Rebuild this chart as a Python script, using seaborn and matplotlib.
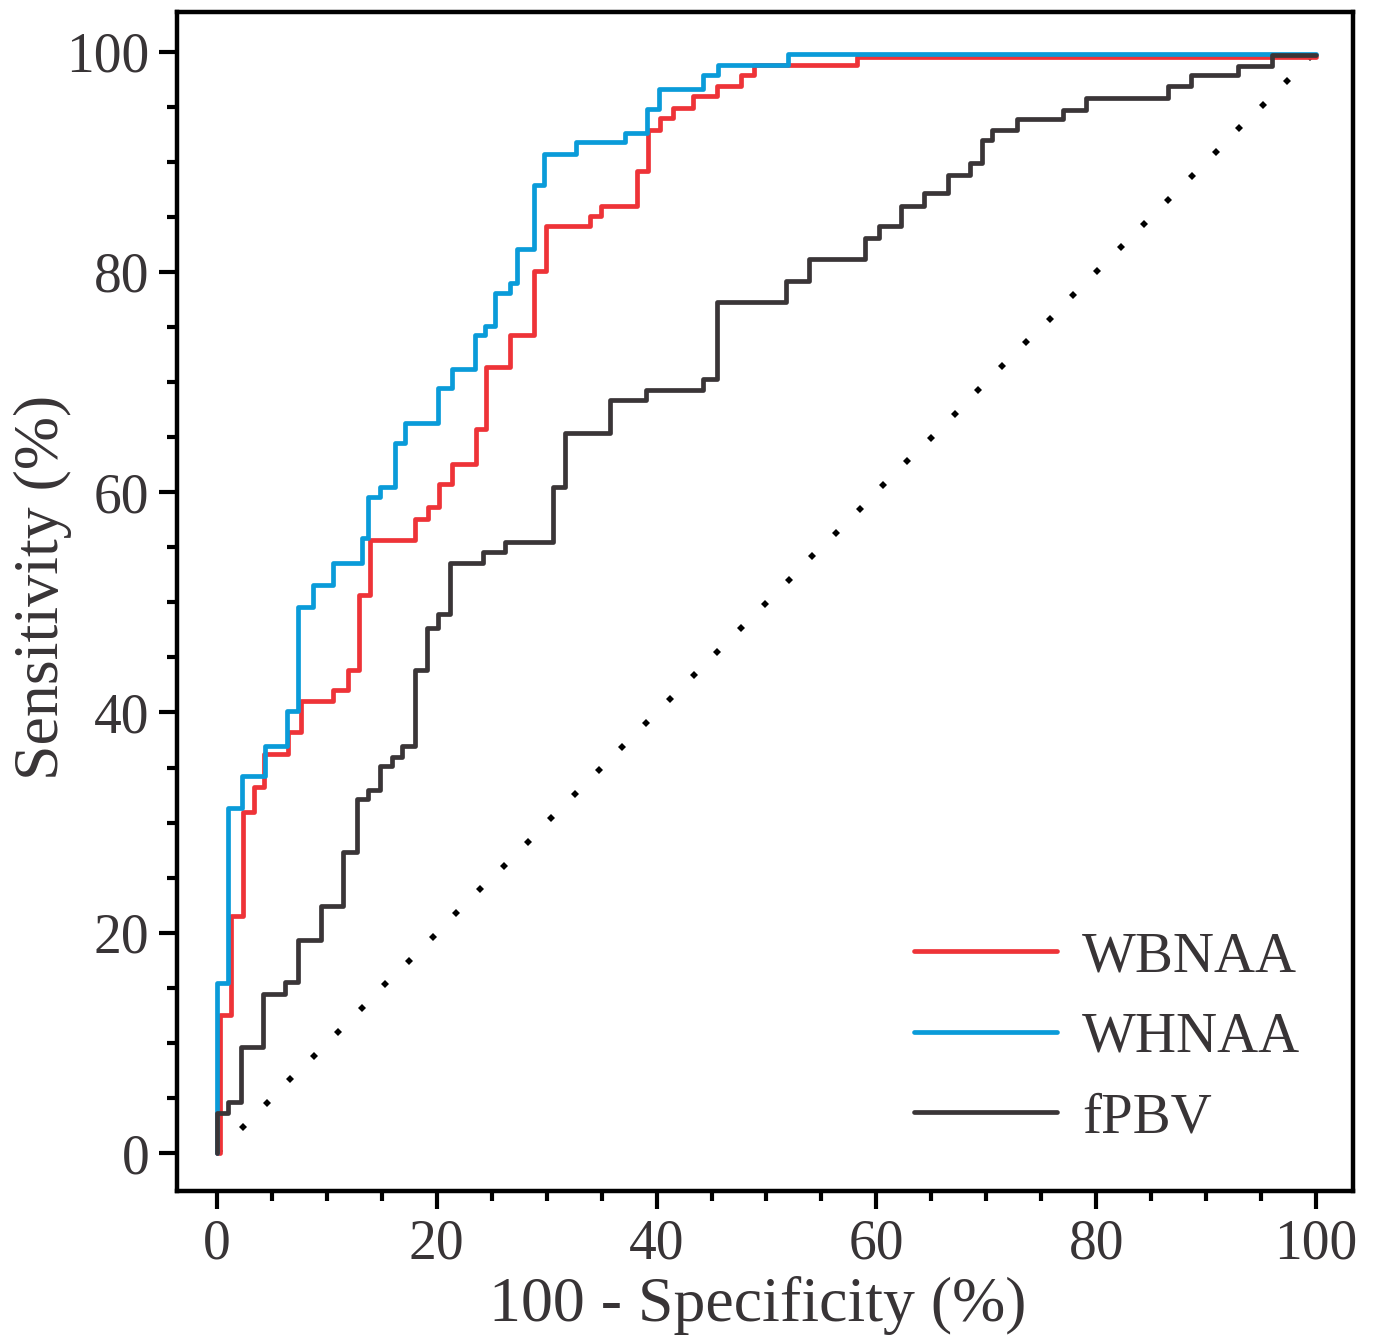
import numpy as np
import pandas as pd
import matplotlib
matplotlib.use("Agg")
import matplotlib.pyplot as plt
import seaborn as sns
from matplotlib.ticker import MultipleLocator

# ---- data ----
wbnaa_fpr = [0, 0.3, 1.3, 2.4, 3.4, 4.3, 6.5, 7.6, 10.6, 11.9, 12.9, 13.9, 18.0, 19.2, 20.2,
             21.4, 23.6, 24.5, 26.7, 28.8, 29.9, 33.9, 34.9, 38.2, 39.2, 40.3, 41.5, 43.3,
             45.5, 47.7, 48.9, 58.2, 100]
wbnaa_tpr = [0, 12.5, 21.5, 31.0, 33.2, 36.2, 38.2, 41.0, 42.0, 43.9, 50.7, 55.7, 57.6, 58.7,
             60.7, 62.6, 65.7, 71.4, 74.3, 80.1, 84.2, 85.1, 86.0, 89.2, 92.9, 94.0, 94.9,
             96.0, 96.9, 97.9, 98.8, 99.5, 99.5]

whnaa_fpr = [0, 0, 1.0, 2.3, 4.4, 6.4, 7.4, 8.7, 10.6, 13.2, 13.7, 14.8, 16.2, 17.1, 20.1,
             21.4, 23.5, 24.4, 25.3, 26.7, 27.3, 28.8, 29.75, 32.7, 37.1, 39.1, 40.2, 44.25,
             45.6, 52.0, 100]
whnaa_tpr = [0, 15.4, 31.3, 34.2, 37.0, 40.1, 49.6, 51.6, 53.6, 55.8, 59.6, 60.5, 64.5, 66.3,
             69.5, 71.2, 74.3, 75.1, 78.1, 79.0, 82.1, 87.9, 90.7, 91.8, 92.6, 94.8, 96.6,
             97.9, 98.8, 99.8, 99.8]

fpbv_fpr = [0, 0, 1.0, 2.15, 4.2, 6.2, 7.4, 9.5, 11.5, 12.7, 13.7, 14.8, 15.9, 16.8, 18.0,
            19.1, 20.1, 21.2, 24.2, 26.2, 30.6, 31.7, 35.8, 39.0, 44.2, 45.5, 51.8, 53.9,
            59.0, 60.2, 62.2, 64.3, 66.5, 68.5, 69.6, 70.5, 72.8, 77.0, 79.1, 86.5, 88.6,
            92.9, 96.0, 100]
fpbv_tpr = [0, 3.65, 4.6, 9.6, 14.4, 15.5, 19.3, 22.4, 27.3, 32.1, 33.0, 35.1, 36.0, 37.0,
            43.9, 47.7, 48.9, 53.6, 54.6, 55.5, 60.5, 65.4, 68.4, 69.3, 70.3, 77.3, 79.2,
            81.2, 83.1, 84.2, 86.0, 87.2, 88.8, 89.9, 92.0, 92.9, 93.9, 94.7, 95.8, 96.9,
            97.9, 98.7, 99.7, 99.7]

series_names = ["WBNAA", "WHNAA", "fPBV"]
x_ticks = [0, 20, 40, 60, 80, 100]
y_ticks = [0, 20, 40, 60, 80, 100]

# ---- styling ----
sns.set_style("ticks")
plt.rcParams["font.family"] = ["Liberation Serif", "DejaVu Serif"]
text_color = "#383436"
palette = {"WBNAA": "#EE3338", "WHNAA": "#0A9BD9", "fPBV": "#3A3537"}

df = pd.concat([
    pd.DataFrame({"fpr": wbnaa_fpr, "tpr": wbnaa_tpr, "Method": "WBNAA"}),
    pd.DataFrame({"fpr": whnaa_fpr, "tpr": whnaa_tpr, "Method": "WHNAA"}),
    pd.DataFrame({"fpr": fpbv_fpr, "tpr": fpbv_tpr, "Method": "fPBV"}),
], ignore_index=True)

fig = plt.figure(figsize=(13.76, 13.38), dpi=100)
ax = fig.add_axes([177 / 1376, 1 - 1191 / 1338, (1353 - 177) / 1376, (1191 - 12) / 1338])

# chance line (diagonal of diamond dots)
diag = np.linspace(0.2, 99.5, 47)
ax.plot(diag, diag, linestyle="none", marker="D", markersize=4.3,
        color="black", markeredgewidth=0, zorder=1)

sns.lineplot(data=df, x="fpr", y="tpr", hue="Method", hue_order=series_names,
             palette=palette, estimator=None, drawstyle="steps-post",
             linewidth=3.4, ax=ax, zorder=2)

ax.set_xlim(-3.64, 103.37)
ax.set_ylim(-3.45, 103.6)
ax.set_xticks(x_ticks)
ax.set_yticks(y_ticks)
ax.xaxis.set_minor_locator(MultipleLocator(5))
ax.yaxis.set_minor_locator(MultipleLocator(5))
ax.tick_params(which="major", direction="out", length=13, width=3.0,
               labelsize=40, pad=7, labelcolor=text_color, color="black")
ax.tick_params(which="minor", direction="out", length=7.5, width=3.0, color="black")
for sp in ax.spines.values():
    sp.set_linewidth(3.2)
    sp.set_color("black")

ax.set_xlabel("100 - Specificity (%)", fontsize=46, color=text_color)
ax.set_ylabel("Sensitivity (%)", fontsize=46, color=text_color)
ax.xaxis.set_label_coords(0.494, -0.072)
ax.yaxis.set_label_coords(-0.089, 0.512)

handles, labels = ax.get_legend_handles_labels()
leg = ax.legend(handles, labels, loc="center left", bbox_to_anchor=(0.627, 0.130),
                frameon=False, fontsize=41, handlelength=2.5, handletextpad=0.45,
                labelspacing=0.5, borderpad=0, borderaxespad=0)
for t in leg.get_texts():
    t.set_color(text_color)
for h in leg.get_lines():
    h.set_linewidth(3.4)

fig.savefig("out.png", dpi=100)
